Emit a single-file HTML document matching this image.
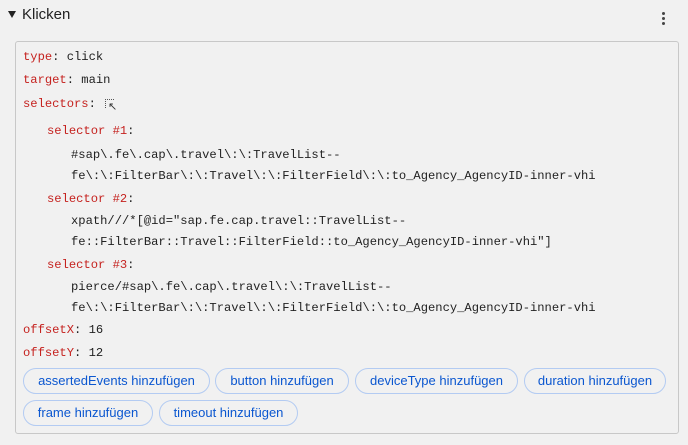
<!DOCTYPE html>
<html><head><style>
body{margin:0;width:688px;height:445px;background:#f1f1f1;position:relative;font-family:"Liberation Sans",sans-serif;overflow:hidden}
.t{position:absolute;white-space:pre;font-family:"Liberation Mono",monospace;font-size:12.15px;color:#222;line-height:14px}
.k{color:#c5221f}
.box{position:absolute;left:15px;top:41px;width:662px;height:391px;border:1px solid #c8c8c8;border-radius:3px;background:#f1f1f1}
.b{position:absolute;border:1px solid #b3cbf2;border-radius:13px;color:#0b57d0;font-size:13px;line-height:24px;text-align:center;box-sizing:border-box;height:26px}
</style></head><body>
<div style="position:absolute;left:8px;top:11px;width:0;height:0;border-left:4px solid transparent;border-right:4px solid transparent;border-top:7px solid #222"></div>
<div style="position:absolute;left:22px;top:6px;font-size:15px;color:#222">Klicken</div>
<div style="position:absolute;left:662px;top:12px;width:3px">
<div style="width:3px;height:3px;background:#444;border-radius:50%;margin-bottom:2px"></div>
<div style="width:3px;height:3px;background:#444;border-radius:50%;margin-bottom:2px"></div>
<div style="width:3px;height:3px;background:#444;border-radius:50%"></div></div>
<div class="box"></div>
<div class="t" style="left:23px;top:50px"><span class="k">type</span>: click</div>
<div class="t" style="left:23px;top:73px"><span class="k">target</span>: main</div>
<div class="t" style="left:23px;top:97px"><span class="k">selectors</span>: </div>
<div style="position:absolute;left:105px;top:99px;width:8px;height:8px;border-top:1px dotted #555;border-left:1px dotted #555"></div>
<div style="position:absolute;left:108px;top:100px;font-size:11px;color:#333">&#8598;</div>
<div class="t" style="left:47px;top:124px"><span class="k">selector #1</span>:</div>
<div class="t" style="left:71px;top:148px">#sap\.fe\.cap\.travel\:\:TravelList--</div>
<div class="t" style="left:71px;top:169px">fe\:\:FilterBar\:\:Travel\:\:FilterField\:\:to_Agency_AgencyID-inner-vhi</div>
<div class="t" style="left:47px;top:192px"><span class="k">selector #2</span>:</div>
<div class="t" style="left:71px;top:214px">xpath///*[@id="sap.fe.cap.travel::TravelList--</div>
<div class="t" style="left:71px;top:235px">fe::FilterBar::Travel::FilterField::to_Agency_AgencyID-inner-vhi"]</div>
<div class="t" style="left:47px;top:258px"><span class="k">selector #3</span>:</div>
<div class="t" style="left:71px;top:280px">pierce/#sap\.fe\.cap\.travel\:\:TravelList--</div>
<div class="t" style="left:71px;top:301px">fe\:\:FilterBar\:\:Travel\:\:FilterField\:\:to_Agency_AgencyID-inner-vhi</div>
<div class="t" style="left:23px;top:323px"><span class="k">offsetX</span>: 16</div>
<div class="t" style="left:23px;top:346px"><span class="k">offsetY</span>: 12</div>
<div class="b" style="left:23px;top:368px;width:187px">assertedEvents hinzufügen</div>
<div class="b" style="left:215px;top:368px;width:134px">button hinzufügen</div>
<div class="b" style="left:355px;top:368px;width:163px">deviceType hinzufügen</div>
<div class="b" style="left:524px;top:368px;width:142px">duration hinzufügen</div>
<div class="b" style="left:23px;top:400px;width:130px">frame hinzufügen</div>
<div class="b" style="left:159px;top:400px;width:139px">timeout hinzufügen</div>
</body></html>
